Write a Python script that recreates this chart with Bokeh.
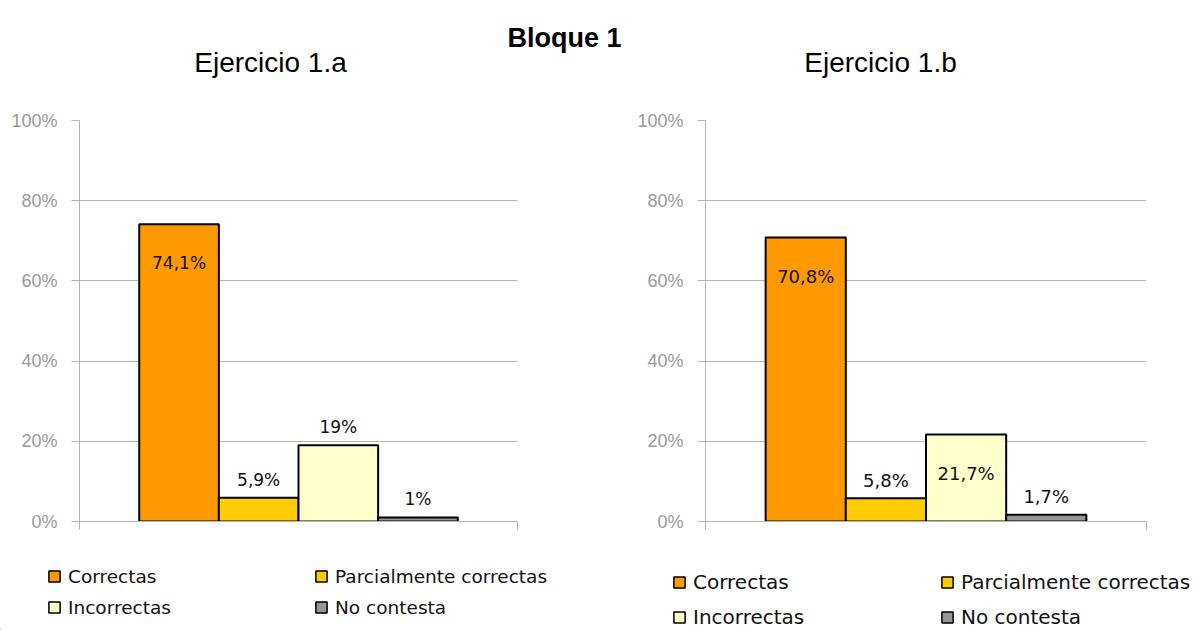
from bokeh.plotting import figure
from bokeh.models import (Range1d, FixedTicker, PrintfTickFormatter, CustomJSTickFormatter,
                          Legend, LegendItem, Label, ColumnDataSource)
from bokeh.layouts import row, column
from bokeh.embed import file_html
from bokeh.resources import INLINE
from bokeh.core.properties import value

# ---- data -------------------------------------------------------------
categories = ["Correctas", "Parcialmente correctas", "Incorrectas", "No contesta"]
values_1a = [74.1, 5.9, 19.0, 1.0]
values_1b = [70.8, 5.8, 21.7, 1.7]
bar_colors = ["#FF9900", "#FFCC00", "#FFFFCC", "#969696"]
y_ticks = [0, 20, 40, 60, 80, 100]
block_title = "Bloque 1"
chart_titles = ["Ejercicio 1.a", "Ejercicio 1.b"]

GRID = "#b4b4b4"
TICK_TEXT = "#9a9a9a"
W_LEFT, W_RIGHT = 630, 570
H_TOP, H_CHART, H_LEGEND = 100, 448, 82


def pct_label(v):
    s = f"{v:.1f}".rstrip("0").rstrip(".")
    return s.replace(".", ",") + "%"


def blank(width, height):
    """A figure whose frame is the whole canvas (no axes, no borders)."""
    f = figure(width=width, height=height, x_range=Range1d(0, width), y_range=Range1d(0, height),
               output_backend="svg", toolbar_location=None,
               x_axis_location=None, y_axis_location=None,
               min_border_left=0, min_border_right=0, min_border_top=0, min_border_bottom=0)
    f.outline_line_color = None
    f.xgrid.visible = False
    f.ygrid.visible = False
    f.background_fill_color = "white"
    f.border_fill_color = "white"
    return f


def make_chart(vals, width, borders, label_size):
    b_left, b_right, b_top, b_bottom = borders
    n = len(categories)
    half = n / 2 + 0.75
    p = figure(width=width, height=H_CHART,
               x_range=Range1d(-half, half), y_range=Range1d(0, 100),
               output_backend="svg", toolbar_location=None,
               min_border_left=b_left, min_border_right=b_right,
               min_border_top=b_top, min_border_bottom=b_bottom)
    p.outline_line_color = None
    p.background_fill_color = "white"
    p.border_fill_color = "white"

    xs = [i - (n - 1) / 2 for i in range(n)]
    # tall bars carry their label inside, short ones just above the top
    yoff = [39 if v >= 20 else -18 for v in vals]
    src = ColumnDataSource(dict(x=xs, top=vals, color=bar_colors,
                                label=[pct_label(v) for v in vals], yoff=yoff))
    p.vbar(x="x", top="top", bottom=0, width=1.0, source=src,
           fill_color="color", line_color="black", line_width=2)
    p.text(x="x", y="top", text="label", y_offset="yoff", source=src,
           text_align="center", text_baseline="middle",
           text_font=value("DejaVu Sans"), text_font_size=label_size,
           text_color="#111111")

    # value axis
    ya = p.yaxis[0]
    ya.ticker = FixedTicker(ticks=y_ticks)
    ya.formatter = PrintfTickFormatter(format="%d%%")
    ya.major_tick_out = 8
    ya.major_tick_in = 0
    ya.minor_tick_line_color = None
    ya.major_tick_line_color = GRID
    ya.axis_line_color = GRID
    ya.major_label_text_font = "Liberation Sans"
    ya.major_label_text_font_size = "18px"
    ya.major_label_text_color = TICK_TEXT
    ya.major_label_standoff = 14

    # category axis: only boundary tick marks, no labels
    xa = p.xaxis[0]
    xa.ticker = FixedTicker(ticks=[-half, half])
    xa.formatter = CustomJSTickFormatter(code="return ''")
    xa.major_tick_out = 8
    xa.major_tick_in = 0
    xa.major_label_standoff = 0
    xa.major_label_text_font_size = "1px"
    xa.minor_tick_line_color = None
    xa.major_tick_line_color = GRID
    xa.axis_line_color = GRID

    p.xgrid.visible = False
    p.ygrid.ticker = FixedTicker(ticks=y_ticks)
    p.ygrid.grid_line_color = GRID
    return p


# ---- titles -----------------------------------------------------------
top = blank(W_LEFT + W_RIGHT, H_TOP)
top.add_layout(Label(x=564, y=H_TOP - 37, text=block_title, text_align="center",
                     text_baseline="alphabetic", text_font="Liberation Sans",
                     text_font_size="27px", text_font_style="bold", text_color="black"))
for cx, t in zip([270, 880], chart_titles):
    top.add_layout(Label(x=cx, y=H_TOP - 62, text=t, text_align="center",
                         text_baseline="alphabetic", text_font="Liberation Sans",
                         text_font_size="28px", text_color="black"))

# ---- charts -----------------------------------------------------------
left = make_chart(values_1a, W_LEFT, (79, 113, 18, 27), "17px")
right = make_chart(values_1b, W_RIGHT, (75, 54, 20, 22), "18px")

# ---- legends ----------------------------------------------------------
# swatch renderers for the legend keys, parked outside the visible range
leg_fig = blank(W_LEFT + W_RIGHT, H_LEGEND)
proxies = [leg_fig.vbar(x=[-500], top=[-400], bottom=[-450], width=1,
                        fill_color=c, line_color="black", line_width=1.5)
           for c in bar_colors]


def add_legend(idx, x, y, font_size, label_h, spacing):
    leg = Legend(items=[LegendItem(label=categories[i], renderers=[proxies[i]], index=0)
                        for i in idx],
                 location=(x, y), orientation="vertical",
                 glyph_width=14, glyph_height=14, label_standoff=7,
                 label_height=label_h, spacing=spacing, padding=0, margin=0,
                 border_line_color=None, background_fill_alpha=0,
                 label_text_font="DejaVu Sans", label_text_font_size=font_size,
                 label_text_color="#111111")
    leg_fig.add_layout(leg, "center")


add_legend((0, 2), 47, 12, "18.5px", 22, 9)
add_legend((1, 3), 314, 12, "18.5px", 22, 9)
add_legend((0, 2), 672, 1, "20px", 24, 11)
add_legend((1, 3), 940, 1, "20px", 24, 11)

layout = column(top, row(left, right), leg_fig)
open("out.html", "w").write(file_html(layout, INLINE))
